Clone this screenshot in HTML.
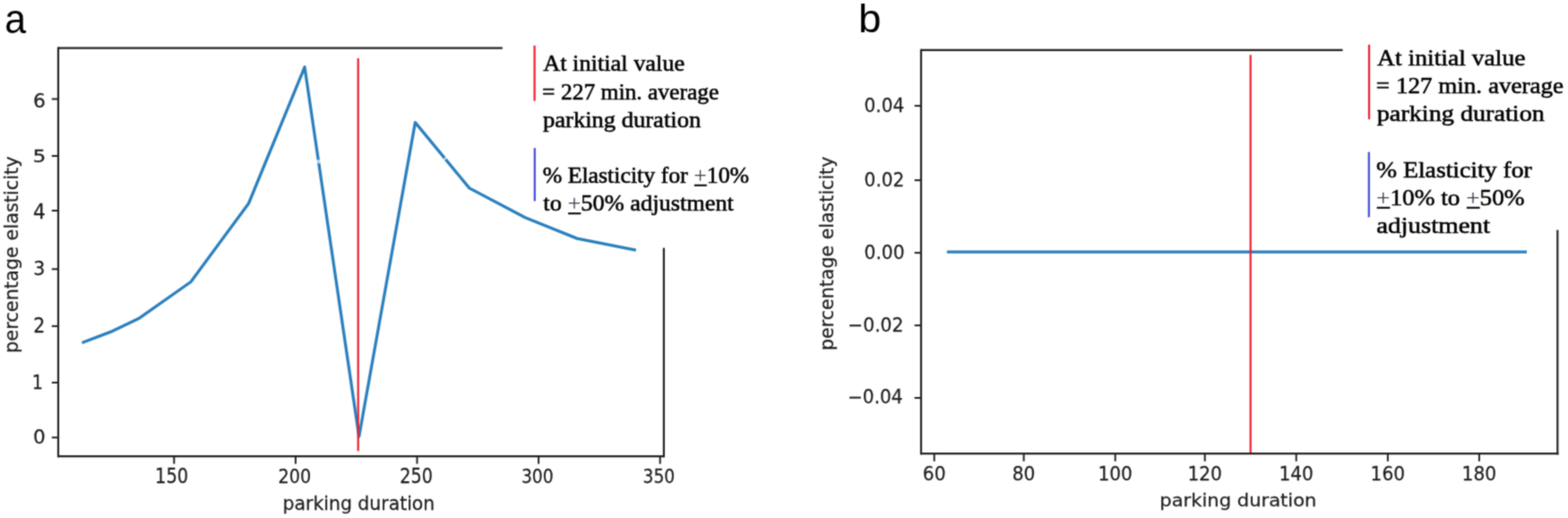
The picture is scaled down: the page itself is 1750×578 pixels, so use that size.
<!DOCTYPE html>
<html><head><meta charset="utf-8"><title>Parking duration elasticity</title>
<style>
html,body{margin:0;padding:0;background:#fff;width:1750px;height:578px;overflow:hidden}
svg{display:block}
text{font-size:200px;white-space:pre}
.dv{font-family:"DejaVu Sans","Liberation Sans",sans-serif;stroke:#1e1e1e;stroke-width:2.5}
.ls{font-family:"Liberation Sans",Arial,sans-serif}
.lr{font-family:"Liberation Serif","Times New Roman",serif;stroke:#000;stroke-width:4.5;paint-order:stroke}
.pl{fill:#3a3a4a;stroke:none}
</style></head>
<body>
<svg width="1750" height="578" viewBox="0 0 1750 578">
<rect width="1750" height="578" fill="#fff"/>
<defs><filter id="bl" x="0" y="0" width="1750" height="578" filterUnits="userSpaceOnUse" color-interpolation-filters="sRGB"><feConvolveMatrix order="3" kernelMatrix="1.0 2.0 1.0 2.0 8.0 2.0 1.0 2.0 1.0" edgeMode="duplicate"/></filter></defs>
<g filter="url(#bl)">
<rect width="1750" height="578" fill="#fff"/>
<text class="ls" fill="#000" transform="matrix(0.21373 0 0 0.22818 5.28 37.44)">a</text>
<polyline points="91.5,382.5 123.3,370.4 154.6,355.6 213,314.5 277.5,227 340,74.8 400.7,487 463.4,136.6 523.8,209.9 586.1,242.8 644.1,266.1 709.8,279.1" fill="none" stroke="#2b7fbd" stroke-width="3.3" stroke-linejoin="round" stroke-linecap="butt"/>
<ellipse cx="355.8" cy="180.2" rx="3.2" ry="2.2" fill="#fff" fill-opacity="0.65"/>
<ellipse cx="497" cy="176.8" rx="2.8" ry="1.1" transform="rotate(-39.5 497 176.8)" fill="#fff" fill-opacity="0.7"/>
<line x1="399.7" y1="65" x2="399.7" y2="503.3" stroke="#ea1c2c" stroke-width="2.2" stroke-linecap="butt"/>
<line x1="65" y1="53.6" x2="560.8" y2="53.6" stroke="#222222" stroke-width="2.2" stroke-linecap="butt"/>
<line x1="65" y1="52.5" x2="65" y2="510.3" stroke="#222222" stroke-width="2.2" stroke-linecap="butt"/>
<line x1="64" y1="509.2" x2="741.5" y2="509.2" stroke="#222222" stroke-width="2.2" stroke-linecap="butt"/>
<line x1="740.9" y1="276.6" x2="740.9" y2="510.3" stroke="#222222" stroke-width="2.2" stroke-linecap="butt"/>
<line x1="57.8" y1="488.2" x2="65" y2="488.2" stroke="#222222" stroke-width="2" stroke-linecap="butt"/>
<text class="dv" fill="#1e1e1e" transform="matrix(0.10792 0 0 0.10530 36.90 494.78)">0</text>
<line x1="57.8" y1="426.9" x2="65" y2="426.9" stroke="#222222" stroke-width="2" stroke-linecap="butt"/>
<text class="dv" fill="#1e1e1e" transform="matrix(0.09540 0 0 0.11027 35.70 433.90)">1</text>
<line x1="57.8" y1="363.9" x2="65" y2="363.9" stroke="#222222" stroke-width="2" stroke-linecap="butt"/>
<text class="dv" fill="#1e1e1e" transform="matrix(0.10217 0 0 0.11081 37.27 370.80)">2</text>
<line x1="57.8" y1="300.3" x2="65" y2="300.3" stroke="#222222" stroke-width="2" stroke-linecap="butt"/>
<text class="dv" fill="#1e1e1e" transform="matrix(0.10313 0 0 0.10662 37.25 306.98)">3</text>
<line x1="57.8" y1="235.05" x2="65" y2="235.05" stroke="#222222" stroke-width="2" stroke-linecap="butt"/>
<text class="dv" fill="#1e1e1e" transform="matrix(0.10755 0 0 0.11575 36.92 244.40)">4</text>
<line x1="57.8" y1="174.0" x2="65" y2="174.0" stroke="#222222" stroke-width="2" stroke-linecap="butt"/>
<text class="dv" fill="#1e1e1e" transform="matrix(0.11684 0 0 0.10000 36.55 181.00)">5</text>
<line x1="57.8" y1="110.5" x2="65" y2="110.5" stroke="#222222" stroke-width="2" stroke-linecap="butt"/>
<text class="dv" fill="#1e1e1e" transform="matrix(0.10891 0 0 0.10993 36.98 119.57)">6</text>
<line x1="194.3" y1="509.2" x2="194.3" y2="517.6" stroke="#222222" stroke-width="2" stroke-linecap="butt"/>
<text class="dv" fill="#1e1e1e" transform="matrix(0.09741 0 0 0.11192 173.06 539.36)">150</text>
<line x1="329.9" y1="509.2" x2="329.9" y2="517.6" stroke="#222222" stroke-width="2" stroke-linecap="butt"/>
<text class="dv" fill="#1e1e1e" transform="matrix(0.09605 0 0 0.10861 310.56 539.07)">200</text>
<line x1="465.5" y1="509.2" x2="465.5" y2="517.6" stroke="#222222" stroke-width="2" stroke-linecap="butt"/>
<text class="dv" fill="#1e1e1e" transform="matrix(0.09605 0 0 0.11192 446.36 539.36)">250</text>
<line x1="601.1" y1="509.2" x2="601.1" y2="517.6" stroke="#222222" stroke-width="2" stroke-linecap="butt"/>
<text class="dv" fill="#1e1e1e" transform="matrix(0.09407 0 0 0.10993 581.89 539.07)">300</text>
<line x1="736.7" y1="509.2" x2="736.7" y2="517.6" stroke="#222222" stroke-width="2" stroke-linecap="butt"/>
<text class="dv" fill="#1e1e1e" transform="matrix(0.09379 0 0 0.10331 717.49 539.09)">350</text>
<text class="dv" fill="#1e1e1e" transform="matrix(0.10221 0 0 0.10309 315.56 568.87)">parking duration</text>
<text class="dv" fill="#1e1e1e" transform="matrix(0 -0.10442 0.10464 0 20.41 393.88)">percentage elasticity</text>
<line x1="596.6" y1="50.8" x2="596.6" y2="112.6" stroke="#ea1c2c" stroke-width="2.2" stroke-linecap="butt"/>
<line x1="596.8" y1="165.2" x2="596.8" y2="224.4" stroke="#3f48d4" stroke-width="2.2" stroke-linecap="butt"/>
<text class="lr" fill="#000" transform="matrix(0.13182 0 0 0.12900 606.14 79.20)">At initial value</text>
<text class="lr" fill="#000" transform="matrix(0.12767 0 0 0.12900 605.12 110.90)">= 227 min. average</text>
<text class="lr" fill="#000" transform="matrix(0.13278 0 0 0.12900 606.00 142.30)">parking duration</text>
<text class="lr" fill="#000" transform="matrix(0.12914 0 0 0.12900 605.70 203.80)">% Elasticity for <tspan class="pl">+</tspan>10%</text>
<rect x="774.84" y="205.80" width="13.97" height="2.0" fill="#000"/>
<text class="lr" fill="#000" transform="matrix(0.13188 0 0 0.12900 606.34 235.20)">to <tspan class="pl">+</tspan>50% adjustment</text>
<rect x="634.05" y="237.20" width="14.28" height="2.0" fill="#000"/>
<text class="ls" fill="#000" transform="matrix(0.22889 0 0 0.22585 958.12 35.95)">b</text>
<line x1="1056.8" y1="281.2" x2="1704.0" y2="281.2" stroke="#2b7fbd" stroke-width="3.3" stroke-linecap="butt"/>
<line x1="1395.7" y1="61.2" x2="1395.7" y2="505.5" stroke="#ea1c2c" stroke-width="2.2" stroke-linecap="butt"/>
<line x1="1028" y1="55.9" x2="1498.5" y2="55.9" stroke="#222222" stroke-width="2.2" stroke-linecap="butt"/>
<line x1="1028" y1="54.8" x2="1028" y2="507.3" stroke="#222222" stroke-width="2.2" stroke-linecap="butt"/>
<line x1="1027" y1="506.2" x2="1739.4" y2="506.2" stroke="#222222" stroke-width="2.2" stroke-linecap="butt"/>
<line x1="1738.3" y1="256.6" x2="1738.3" y2="507.3" stroke="#222222" stroke-width="2.2" stroke-linecap="butt"/>
<line x1="1020.7" y1="118.1" x2="1028" y2="118.1" stroke="#222222" stroke-width="2" stroke-linecap="butt"/>
<text class="dv" fill="#1e1e1e" transform="matrix(0.10024 0 0 0.10530 964.60 124.78)">0.04</text>
<line x1="1020.7" y1="201.1" x2="1028" y2="201.1" stroke="#222222" stroke-width="2" stroke-linecap="butt"/>
<text class="dv" fill="#1e1e1e" transform="matrix(0.10049 0 0 0.10662 964.59 207.78)">0.02</text>
<line x1="1020.7" y1="282.1" x2="1028" y2="282.1" stroke="#222222" stroke-width="2" stroke-linecap="butt"/>
<text class="dv" fill="#1e1e1e" transform="matrix(0.10119 0 0 0.10662 964.58 288.78)">0.00</text>
<line x1="1020.7" y1="363.1" x2="1028" y2="363.1" stroke="#222222" stroke-width="2" stroke-linecap="butt"/>
<text class="dv" fill="#1e1e1e" transform="matrix(0.10175 0 0 0.10530 946.16 369.58)">−0.02</text>
<line x1="1020.7" y1="444.0" x2="1028" y2="444.0" stroke="#222222" stroke-width="2" stroke-linecap="butt"/>
<text class="dv" fill="#1e1e1e" transform="matrix(0.10069 0 0 0.10331 945.99 450.49)">−0.04</text>
<line x1="1042.7" y1="506.2" x2="1042.7" y2="514.8" stroke="#222222" stroke-width="2" stroke-linecap="butt"/>
<text class="dv" fill="#1e1e1e" transform="matrix(0.10100 0 0 0.11000 1029.85 536.30)">60</text>
<line x1="1142.6" y1="506.2" x2="1142.6" y2="514.8" stroke="#222222" stroke-width="2" stroke-linecap="butt"/>
<text class="dv" fill="#1e1e1e" transform="matrix(0.10100 0 0 0.11000 1129.75 536.30)">80</text>
<line x1="1244.7" y1="506.2" x2="1244.7" y2="514.8" stroke="#222222" stroke-width="2" stroke-linecap="butt"/>
<text class="dv" fill="#1e1e1e" transform="matrix(0.10100 0 0 0.11000 1225.42 536.30)">100</text>
<line x1="1344.7" y1="506.2" x2="1344.7" y2="514.8" stroke="#222222" stroke-width="2" stroke-linecap="butt"/>
<text class="dv" fill="#1e1e1e" transform="matrix(0.10100 0 0 0.11000 1325.42 536.30)">120</text>
<line x1="1446.7" y1="506.2" x2="1446.7" y2="514.8" stroke="#222222" stroke-width="2" stroke-linecap="butt"/>
<text class="dv" fill="#1e1e1e" transform="matrix(0.10100 0 0 0.11000 1427.42 536.30)">140</text>
<line x1="1548.9" y1="506.2" x2="1548.9" y2="514.8" stroke="#222222" stroke-width="2" stroke-linecap="butt"/>
<text class="dv" fill="#1e1e1e" transform="matrix(0.10100 0 0 0.11000 1529.62 536.30)">160</text>
<line x1="1650.9" y1="506.2" x2="1650.9" y2="514.8" stroke="#222222" stroke-width="2" stroke-linecap="butt"/>
<text class="dv" fill="#1e1e1e" transform="matrix(0.10100 0 0 0.11000 1631.62 536.30)">180</text>
<text class="dv" fill="#1e1e1e" transform="matrix(0.10547 0 0 0.10103 1294.30 564.96)">parking duration</text>
<text class="dv" fill="#1e1e1e" transform="matrix(0 -0.10284 0.10825 0 930.45 390.95)">percentage elasticity</text>
<line x1="1528.0" y1="49.8" x2="1528.0" y2="133.2" stroke="#ea1c2c" stroke-width="2.2" stroke-linecap="butt"/>
<line x1="1527.8" y1="169.6" x2="1527.8" y2="242.4" stroke="#3f48d4" stroke-width="2.2" stroke-linecap="butt"/>
<text class="lr" fill="#000" transform="matrix(0.13778 0 0 0.12900 1537.12 73.20)">At initial value</text>
<text class="lr" fill="#000" transform="matrix(0.13538 0 0 0.12900 1535.85 104.20)">= 127 min. average</text>
<text class="lr" fill="#000" transform="matrix(0.14095 0 0 0.12900 1536.78 135.00)">parking duration</text>
<text class="lr" fill="#000" transform="matrix(0.13841 0 0 0.12900 1536.03 197.60)">% Elasticity for</text>
<text class="lr" fill="#000" transform="matrix(0.13639 0 0 0.12900 1536.04 228.80)"><tspan class="pl">+</tspan>10% to <tspan class="pl">+</tspan>50%</text>
<rect x="1536.64" y="230.80" width="14.78" height="2.0" fill="#000"/>
<rect x="1636.88" y="230.80" width="14.78" height="2.0" fill="#000"/>
<text class="lr" fill="#000" transform="matrix(0.14453 0 0 0.12900 1536.19 259.50)">adjustment</text>
</g>
</svg>
</body></html>
